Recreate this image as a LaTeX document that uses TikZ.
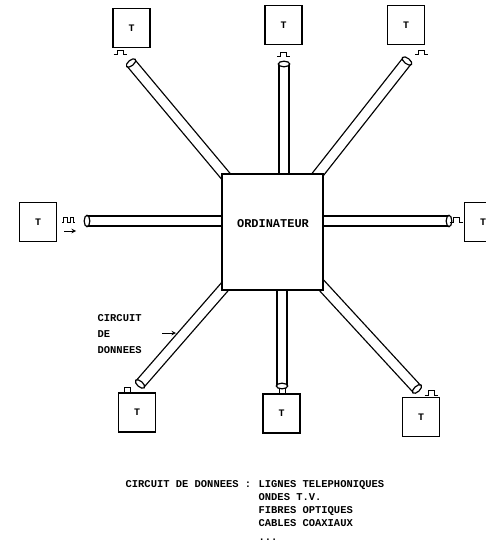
\documentclass[tikz,border=0pt]{standalone}
\usepackage{fontspec}
\setmainfont{Liberation Mono}
\usetikzlibrary{calc,shapes.geometric}
\newcommand\tubeseg[3]{%
  \draw[line width=11.4bp] (#1) -- (#2);
  \draw[line width=8.8bp,white] (#1) -- (#2);
  \path let \p1=($(#2)-(#1)$), \n1={atan2(\y1,\x1)} in
    (#2) node[capnode,rotate=\n1] (#3) {};
}
\begin{document}
\begin{tikzpicture}[x=1bp,y=-1bp,line width=1.3bp,
  tbox/.style={draw,fill=white,minimum width=37bp,minimum height=39bp,inner sep=0pt,
    font=\fontsize{10}{12}\selectfont\bfseries},
  cbox/.style={draw,fill=white,minimum width=101bp,minimum height=116bp,inner sep=0pt},
  capnode/.style={draw,fill=white,ellipse,minimum width=5.6bp,minimum height=11.4bp,inner sep=0pt,line width=1.2bp},
  lbl/.style={inner sep=0pt,font=\fontsize{10.5}{13}\selectfont\bfseries},
  pulseline/.style={line width=1bp},
  pics/sqpulse/.style={code={\draw[pulseline] (-6.5,0)--(-3,0)--(-3,-4.5)--(3,-4.5)--(3,0)--(6.5,0);}},
  pics/dblpulse/.style={code={\draw[pulseline] (-7,0)--(-5.5,0)--(-5.5,-5)--(-2,-5)--(-2,0)--(1,0)--(1,-5)--(4.5,-5)--(4.5,0)--(6,0);}},
]
\useasboundingbox (0,0) rectangle (486,559);
\clip (0,0) rectangle (486,559);

% tube anchors
\coordinate (oc) at (272.5,232);
\coordinate (ohl) at (272,221);
\coordinate (ovt) at (284,232);
\coordinate (ovb) at (282,232);
\coordinate (etl) at (131,63);
\coordinate (etc) at (284,64);
\coordinate (etr) at (407,61);
\coordinate (el) at (87,221);
\coordinate (er) at (449,221);
\coordinate (ebl) at (140,384);
\coordinate (ebc) at (282,386);
\coordinate (ebr) at (417,389);

% tubes (data circuits)
\tubeseg{oc}{etl}{ctl}
\tubeseg{ovt}{etc}{ctc}
\tubeseg{oc}{etr}{ctr}
\tubeseg{ohl}{el}{cl}
\tubeseg{ohl}{er}{cr}
\tubeseg{oc}{ebl}{cbl}
\tubeseg{ovb}{ebc}{cbc}
\tubeseg{oc}{ebr}{cbr}

% central computer
\node[cbox] (ord) at (oc) {};
\node[inner sep=0pt,font=\fontsize{12}{14}\selectfont\bfseries] (ordt) at (273,224) {ORDINATEUR};

% terminals
\node[tbox] (tTL) at (131.5,28) {T};
\node[tbox] (tTC) at (283.5,25) {T};
\node[tbox] (tTR) at (406,25) {T};
\node[tbox] (tL) at (38,222) {T};
\node[tbox] (tR) at (483,222) {T};
\node[tbox] (tBL) at (137,412.5) {T};
\node[tbox] (tBC) at (281.5,413.5) {T};
\node[tbox] (tBR) at (421,417) {T};

% signal pulses
\pic at (120,55) {sqpulse};
\pic at (283.5,57) {sqpulse};
\pic at (421.5,55) {sqpulse};
\pic at (69,222) {dblpulse};
\pic at (456,222) {sqpulse};
\pic at (127,392) {sqpulse};
\pic at (282,393) {sqpulse};
\pic at (431,395) {sqpulse};
\coordinate (al) at (64,231);
\coordinate (ar) at (76,231);
\draw[line width=1bp,-stealth] (al) -- (ar);

% label of a data circuit
\node[lbl,anchor=west] (c1) at (97,318) {CIRCUIT};
\node[lbl,anchor=west] (c2) at (97,334) {DE};
\node[lbl,anchor=west] (c3) at (97,350) {DONNEES};
\coordinate (cal) at (162,333);
\coordinate (car) at (176,333);
\draw[line width=1bp,-stealth] (cal) -- (car);

% legend
\node[lbl,anchor=base west] (lg) at (125,487) {CIRCUIT DE DONNEES :};
\node[lbl,anchor=base west] (l1) at (258,487) {LIGNES TELEPHONIQUES};
\node[lbl,anchor=base west] (l2) at ($(l1.base west)+(0,13.3)$) {ONDES T.V.};
\node[lbl,anchor=base west] (l3) at ($(l2.base west)+(0,13.3)$) {FIBRES OPTIQUES};
\node[lbl,anchor=base west] (l4) at ($(l3.base west)+(0,13.3)$) {CABLES COAXIAUX};
\node[lbl,anchor=base west] (l5) at ($(l4.base west)+(0,13.3)$) {...};
\end{tikzpicture}
\end{document}
